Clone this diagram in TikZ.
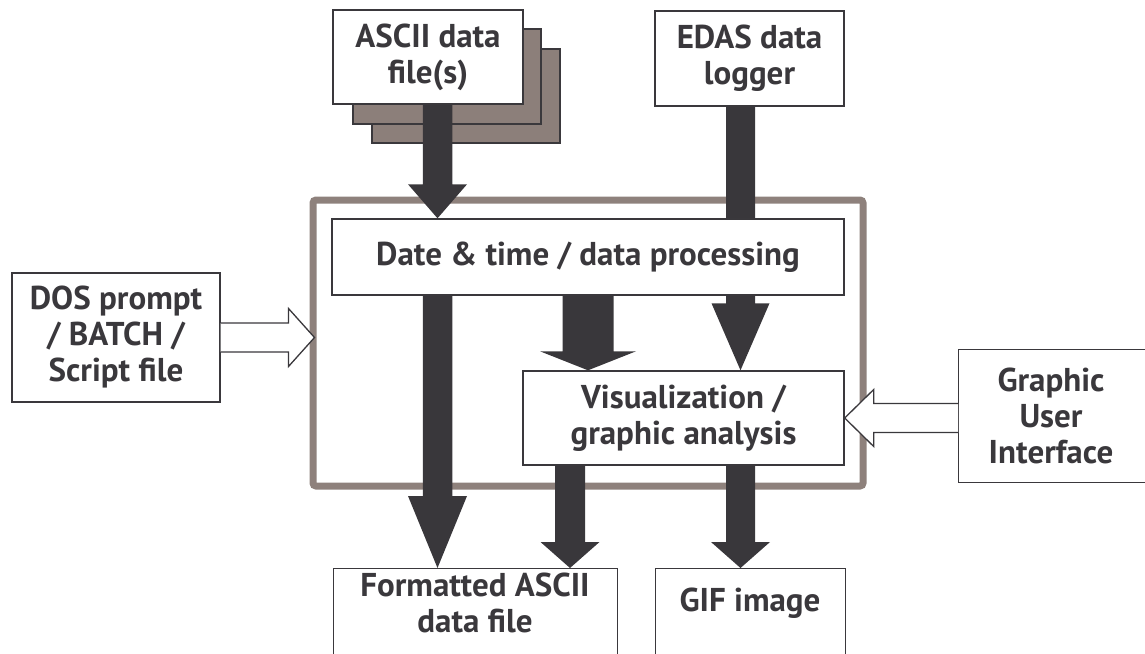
\documentclass[tikz,border=0pt]{standalone}
\usepackage{fontspec}
\setmainfont{PT Sans}
\usetikzlibrary{calc}
\definecolor{ink}{HTML}{3A383C}
\definecolor{framec}{HTML}{8E817C}
\definecolor{stackc}{HTML}{8C7F7A}
\definecolor{arrc}{HTML}{39373B}
\pgfdeclarelayer{back}
\pgfdeclarelayer{mid}
\pgfsetlayers{back,mid,main}
% vertical solid block arrow: start, end, shaft half, head half, head length
\newcommand\fatdown[5]{%
  \fill[arrc] let \p1=#1, \p2=#2 in
    (\x1-#3,\y1) -- (\x1-#3,\y2+#5) -- (\x1-#4,\y2+#5) -- (\x1,\y2)
    -- (\x1+#4,\y2+#5) -- (\x1+#3,\y2+#5) -- (\x1+#3,\y1) -- cycle;}
% horizontal hollow block arrow (open at start)
\newcommand\hollowh[6]{% start, end, shaft half, head half, head length, sign
  \filldraw[fill=white,draw=ink,line width=1.3pt,line join=miter] let \p1=#1, \p2=#2 in
    (\x1,\y1+#3) -- (\x2-#6*#5,\y1+#3) -- (\x2-#6*#5,\y1+#4) -- (\x2,\y1)
    -- (\x2-#6*#5,\y1-#4) -- (\x2-#6*#5,\y1-#3) -- (\x1,\y1-#3);}
\begin{document}
\begin{tikzpicture}[x=1pt,y=-1pt,
  box/.style={draw=ink,line width=1.4pt,fill=white,inner sep=0pt,align=center,
    font=\fontsize{33}{36}\selectfont\bfseries,text=ink},
  lbl/.style={inner sep=0pt,align=center,font=\fontsize{33}{36}\selectfont\bfseries,text=ink},
  stackbox/.style={draw=ink,line width=1.4pt,fill=stackc,inner sep=0pt}]
\useasboundingbox (0,0) rectangle (1145,653);
\clip (0,0) rectangle (1145,653);

% frame
\begin{pgfonlayer}{back}
\node[draw=framec,line width=7pt,rounded corners=3pt,outer sep=0pt,
      minimum width=550pt,minimum height=286pt] (frame) at (588,343) {};
\node[stackbox,minimum width=188pt,minimum height=94pt] (stackc) at (466,96) {};
\node[stackbox,minimum width=188pt,minimum height=95pt] (stackb) at (447,76.5) {};
\end{pgfonlayer}

% boxes
\node[box,minimum width=190pt,minimum height=94pt] (ascii) at (428,57) {ASCII data\\file(s)};
\node[box,minimum width=189pt,minimum height=95pt] (edas) at (749.5,58.5) {EDAS data\\logger};
\node[box,minimum width=512pt,minimum height=76pt] (date) at (588,257) {Date \& time / data processing};
\node[box,minimum width=321pt,minimum height=94pt] (vis) at (683.5,418) {Visualization /\\graphic analysis};
\node[box,minimum width=208pt,minimum height=129pt] (dos) at (116,337.5) {DOS prompt\\/ BATCH /\\Script file};
\node[box,minimum width=200pt,minimum height=133pt,anchor=north west] (gui) at (958,349) {};
\node[lbl] (guitext) at (1051,415.5) {Graphic\\User\\Interface};
\node[box,minimum width=284pt,minimum height=120pt,anchor=north west] (fmt) at (333,568) {};
\node[lbl] (fmttext) at (475,603) {Formatted ASCII\\data file};
\node[box,minimum width=190pt,minimum height=120pt,anchor=north west] (gif) at (655,568) {};
\node[lbl] (giftext) at (750,603) {GIF image};

% arrow columns
\coordinate (c1) at (437.5,0);
\coordinate (c2) at (740.5,0);
\coordinate (c3) at (588,0);
\coordinate (c5) at (570,0);

\begin{pgfonlayer}{mid}
\fatdown{(c1 |- ascii.south)}{(c1 |- date.north)}{14.75pt}{29.5pt}{34pt}
\fatdown{(c2 |- edas.south)}{(c2 |- vis.north)}{14.5pt}{29pt}{67pt}
\fatdown{(c3 |- date.south)}{(c3 |- vis.north)}{25.5pt}{48pt}{19pt}
\fatdown{(c1 |- date.south)}{(c1 |- fmt.north)}{14.75pt}{29.5pt}{72pt}
\fatdown{(c5 |- vis.south)}{(c5 |- fmt.north)}{15pt}{29.5pt}{26pt}
\fatdown{(c2 |- vis.south)}{(c2 |- gif.north)}{14.5pt}{29.5pt}{26pt}
\end{pgfonlayer}

% hollow arrows
\hollowh{(dos.east)}{($(dos.east -| frame.west)+(1.5,0)$)}{14.5pt}{29pt}{26pt}{1}
\hollowh{(vis.east -| gui.west)}{(vis.east)}{14.5pt}{28.5pt}{29pt}{-1}
\end{tikzpicture}
\end{document}
